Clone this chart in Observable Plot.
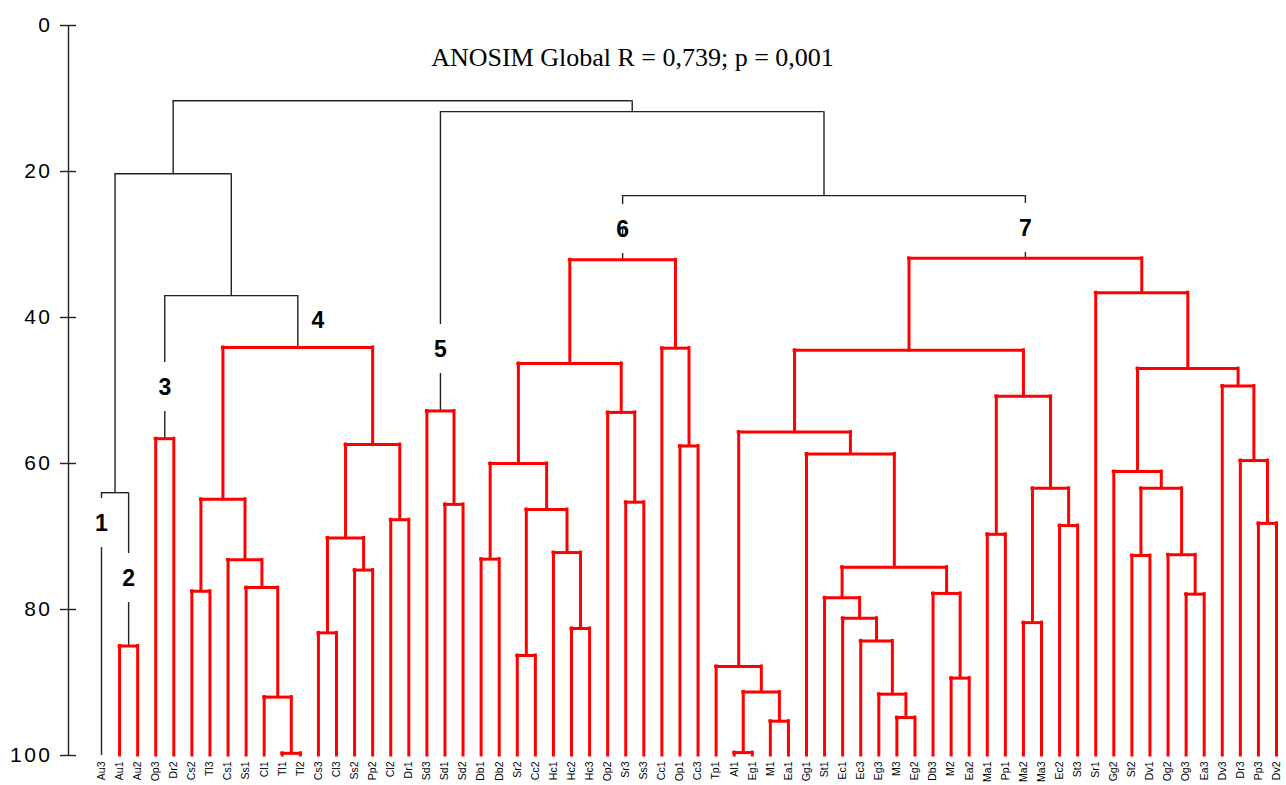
<!DOCTYPE html>
<html>
<head>
<meta charset="utf-8">
<script src="https://cdn.jsdelivr.net/npm/d3@7"></script>
<script src="https://cdn.jsdelivr.net/npm/@observablehq/plot@0.6"></script>
<style>
  html, body { margin: 0; padding: 0; background: #fff; overflow: hidden; }
  #chart svg { display: block; }
  #chart g[aria-label="y-axis tick label"] text { letter-spacing: 2.5px; }
</style>
</head>
<body>
<div id="chart"></div>
<script>
// ---- DATA ----
const leafNames = ["Au3","Au1","Au2","Op3","Dr2","Cs2","Tl3","Cs1","Ss1","Cl1","Tl1","Tl2","Cs3","Cl3","Ss2","Pp2","Cl2","Dr1",
  "Sd3","Sd1","Sd2","Db1","Db2","Sr2","Cc2","Hc1","Hc2","Hc3","Op2","Sr3","Ss3","Cc1","Op1","Cc3",
  "Tp1","Al1","Eg1","M1","Ea1","Gg1","St1","Ec1","Ec3","Eg3","M3","Eg2","Db3","M2","Ea2","Ma1","Pp1","Ma2","Ma3","Ec2","St3",
  "Sr1","Gg2","St2","Dv1","Og2","Og3","Ea3","Dv3","Dr3","Pp3","Dv2"];

// merges (linkage): id, left child, right child, similarity level
const mergeIds    = ["au12","g1","g3",
  "a1","a2","a3","a4","a5","a6","a7","a8","a9","a10","a11","g4",
  "b1","g5",
  "c1","c2","c3","c4","c5","c6","c7","c8","c9","c10","c11","g6",
  "d1","d2","d3","d4","d5","d6","d7","d8","d9","d10","d11","d12","d13","d14","d15","d16","d17","d18","d19","d20",
  "d21","d22","d23","d24","d25","d26","d27","d28","d29","d30","g7",
  "t1","t2","t3","t4","root"];
const mergeLeft   = ["Au1","Au3","Op3",
  "Cs2","Tl1","Cl1","Ss1","Cs1","a1","Cs3","Ss2","a7","Cl2","a9","a6",
  "Sd1","Sd3",
  "Db1","Sr2","Hc2","Hc1","c2","c1","Sr3","Op2","c6","Op1","Cc1","c9",
  "Al1","M1","d1","Tp1","M3","Eg3","Ec3","Ec1","St1","M2","Db3","d9","Gg1","d4","Ma1","Ma2","Ec2","d16","d15","d14",
  "St2","Og3","Og2","d21","Gg2","Pp3","Dr3","Dv3","d25","Sr1","d20",
  "g3","g1","g6","g5","t2"];
const mergeRight  = ["Au2","au12","Dr2",
  "Tl3","Tl2","a2","a3","a4","a5","Cl3","Pp2","a8","Dr1","a10","a11",
  "Sd2","b1",
  "Db2","Cc2","Hc3","c3","c4","c5","Ss3","c7","c8","Cc3","c10","c11",
  "Eg1","Ea1","d2","d3","Eg2","d5","d6","d7","d8","Ea2","d10","d11","d12","d13","Pp1","Ma3","St3","d17","d18","d19",
  "Dv1","Ea3","d22","d23","d24","Dv2","d26","d27","d28","d29","d30",
  "g4","t1","g7","t3","t4"];
const mergeLevel  = [85.0, 64.0, 56.6,
  77.5, 99.7, 92.0, 77.0, 73.2, 64.9, 83.2, 74.6, 70.2, 67.7, 57.4, 44.1,
  65.6, 52.8,
  73.1, 86.3, 82.6, 72.2, 66.3, 60.0, 65.3, 53.0, 46.3, 57.6, 44.2, 32.1,
  99.6, 95.3, 91.3, 87.8, 94.8, 91.6, 84.3, 81.2, 78.4, 89.4, 77.8, 74.2, 58.7, 55.7, 69.7, 81.8, 68.5, 63.4, 50.8, 44.5,
  72.6, 77.9, 72.5, 63.4, 61.1, 68.2, 59.6, 49.4, 47.0, 36.6, 31.9,
  37.0, 20.3, 23.3, 11.8, 10.3];

// group roots (drawn in red, with everything below them)
const groupRoots = ["au12","g3","g4","g5","g6","g7"];
// group labels
const groupLabels     = ["1","2","3","4","5","6","7"];
const groupLabelNodes = ["Au3","au12","g3","g4","g5","g6","g7"];
const groupLabelLevel = [68.2, 75.8, 49.6, 40.4, 44.4, 27.9, 27.8];
const groupLabelBeside = [false, false, false, true, false, false, false];

const yTicks = [0, 20, 40, 60, 80, 100];
const titleText = "ANOSIM Global R = 0,739; p = 0,001";

// ---- BUILD TREE ----
const nodes = new Map();
leafNames.forEach((n, i) => nodes.set(n, {id: n, x: i, h: 100, children: []}));
mergeIds.forEach((id, i) => {
  const l = nodes.get(mergeLeft[i]), r = nodes.get(mergeRight[i]);
  nodes.set(id, {id, x: (l.x + r.x) / 2, h: mergeLevel[i], children: [l, r]});
});
const red = new Set();
function markRed(n) { red.add(n.id); n.children.forEach(markRed); }
groupRoots.forEach(g => markRed(nodes.get(g)));

const horiz = [], vert = [];
mergeIds.forEach(id => {
  const n = nodes.get(id);
  const isRed = red.has(id);
  horiz.push({x1: n.children[0].x, x2: n.children[1].x, y: n.h, red: isRed});
  n.children.forEach(c => vert.push({x: c.x, y1: c.h, y2: n.h, red: isRed}));
});

const labels = groupLabels.map((t, i) => ({
  text: t, x: nodes.get(groupLabelNodes[i]).x, y: groupLabelLevel[i], beside: groupLabelBeside[i]
}));

const xDomain = [-1.8255, leafNames.length - 1];
const RED = "#ff0000", BLACK = "#222";

const chart = Plot.plot({
  width: 1286,
  height: 785,
  marginTop: 25,
  marginBottom: 30,
  marginLeft: 68,
  marginRight: 10,
  x: {domain: xDomain},
  y: {domain: [0, 100], reverse: true},
  style: {fontFamily: "'Liberation Sans', Arial, sans-serif", background: "#fff"},
  marks: [
    // y axis
    Plot.ruleX([xDomain[0]], {y1: 0, y2: 100, stroke: BLACK, strokeWidth: 1.4}),
    Plot.axisY({ticks: yTicks, tickSize: 16, dx: 8, tickPadding: 8, fontSize: 21,
      stroke: BLACK, strokeWidth: 1.4, color: "#000"}),
    // leaf labels
    Plot.axisX({ticks: d3.range(leafNames.length), tickFormat: i => leafNames[i], tickRotate: -90,
      tickSize: 0, tickPadding: 6, fontSize: 10.5, fontFamily: "'Liberation Sans Narrow', 'Liberation Sans', Arial", color: "#000"}),
    // black connections
    Plot.ruleX(vert.filter(d => !d.red), {x: "x", y1: "y1", y2: "y2", stroke: BLACK, strokeWidth: 1.4}),
    Plot.ruleY(horiz.filter(d => !d.red), {y: "y", x1: "x1", x2: "x2", stroke: BLACK, strokeWidth: 1.4}),
    // group labels (with white halo to break stems)
    Plot.text(labels.filter(d => !d.beside), {x: "x", y: "y", text: "text", fontSize: 23, fontWeight: "bold",
      fill: "#000", stroke: "white", strokeWidth: 32}),
    Plot.text(labels.filter(d => d.beside), {x: "x", y: "y", text: "text", fontSize: 23, fontWeight: "bold",
      fill: "#000", dx: 20}),
    // red clusters
    Plot.ruleX(vert.filter(d => d.red), {x: "x", y1: "y1", y2: "y2", stroke: RED, strokeWidth: 3, strokeLinecap: "square"}),
    Plot.ruleY(horiz.filter(d => d.red), {y: "y", x1: "x1", x2: "x2", stroke: RED, strokeWidth: 3, strokeLinecap: "square"}),
    // title
    Plot.text([titleText], {frameAnchor: "top", dx: -40, dy: 32, lineAnchor: "middle", fontSize: 26,
      fontFamily: "'Liberation Serif', 'Times New Roman', serif", fill: "#000"})
  ]
});
document.getElementById("chart").appendChild(chart);
</script>
</body>
</html>
